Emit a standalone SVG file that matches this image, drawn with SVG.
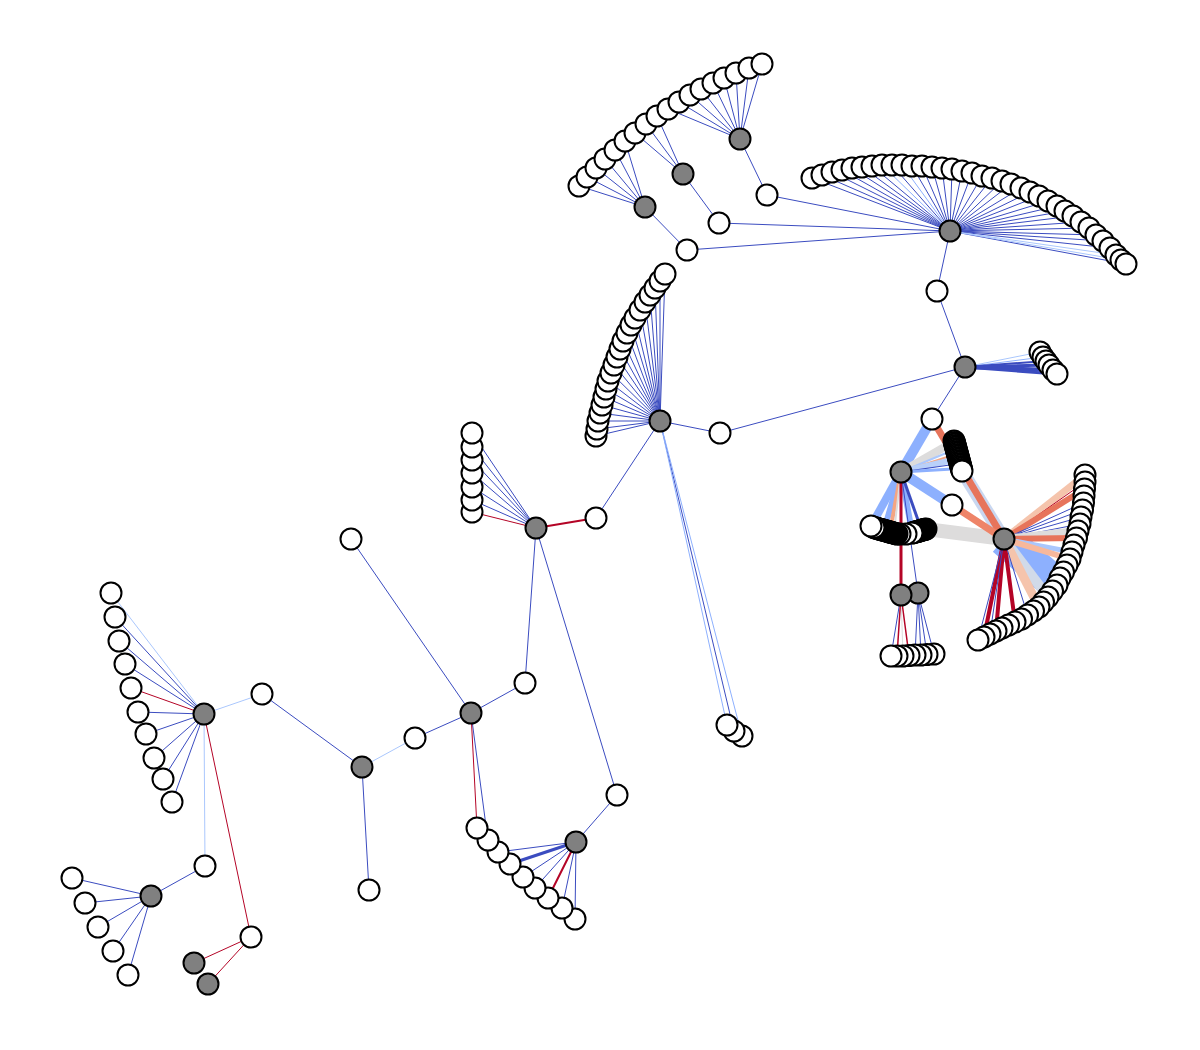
<svg xmlns="http://www.w3.org/2000/svg" width="1200" height="1050" viewBox="0 0 1200 1050">
<style>
.w{fill:#fff;stroke:#000;stroke-width:2}
.g{fill:#808080;stroke:#000;stroke-width:2}
#edges path,#edges line{fill:none}
.b{stroke:#3b4cc0;stroke-width:1}
.lb{stroke:#8db0fe;stroke-width:1}
.xb{stroke:#aac7fd;stroke-width:1}
.r{stroke:#b40426;stroke-width:1}
</style>
<rect width="1200" height="1050" fill="#fff"/>
<g id="edges">
<path class="b" d="M740 139L767 195M683 174L719 223M645 207L687 250M950 231L767 195M950 231L719 223M950 231L687 250M950 231L937 291M937 291L965 367M965 367L720 433M965 367L932 419M660 421L720 433M660 421L596 518M536 528L525 683M536 528L617 795M471 713L525 683M471 713L351 539M471 713L415 738M471 713L488 841M362 767L262 694M362 767L369 890M576 842L617 795M151 896L205 866M660 421L734 731"/>
<path class="b" d="M645 207L579 186M645 207L587 177M645 207L596 168M645 207L605 159M645 207L615 150M645 207L625 141M683 174L635 133M683 174L646 124M683 174L657 116M740 139L668 109M740 139L679 102M740 139L690 95M740 139L701 89M740 139L713 83M740 139L724 78M740 139L736 73M740 139L749 68M740 139L762 64"/>
<path class="b" d="M950 231L812 178M950 231L822 175M950 231L832 172M950 231L842 170M950 231L852 168M950 231L862 167M950 231L872 166M950 231L892 165M950 231L912 166M950 231L922 166M950 231L932 167M950 231L942 168M950 231L952 169M950 231L962 171M950 231L972 173M950 231L982 176M950 231L992 178M950 231L1002 181M950 231L1011 184M950 231L1021 188M950 231L1030 192M950 231L1039 196M950 231L1048 201M950 231L1057 206M950 231L1065 211M950 231L1073 216M950 231L1081 222M950 231L1089 228M950 231L1096 235M950 231L1103 241M950 231L1110 248M950 231L1126 264"/>
<path class="lb" d="M950 231L882 165M950 231L902 165"/>
<path class="xb" d="M950 231L1116 255M950 231L1121 260"/>
<path class="b" d="M660 421L665 274M660 421L660 281M660 421L655 288M660 421L650 295M660 421L645 302M660 421L640 310M660 421L635 318M660 421L631 325M660 421L627 333M660 421L623 341M660 421L620 349M660 421L617 357M660 421L614 365M660 421L611 373M660 421L608 381M660 421L606 389M660 421L604 397M660 421L602 405M660 421L600 413M660 421L598 421M660 421L597 429M660 421L596 436"/>
<path class="lb" d="M660 421L727 725M660 421L742 736"/>
<path class="b" d="M536 528L472 433M536 528L472 447M536 528L472 460M536 528L472 473M536 528L472 487M536 528L472 500"/>
<path class="r" d="M536 528L472 512M471 713L477 828"/>
<path class="r" style="stroke-width:2" d="M536 528L596 518M576 842L548 898"/>
<path class="b" d="M576 842L498 852M576 842L523 877M576 842L535 888M576 842L562 908M576 842L575 919"/>
<path class="b" style="stroke-width:3" d="M576 842L510 864"/>
<path class="b" d="M204 714L115 617M204 714L119 641M204 714L125 664M204 714L138 712M204 714L146 734M204 714L154 758M204 714L163 779M204 714L172 802"/>
<path class="xb" d="M204 714L111 593M204 714L262 694M204 714L205 866M362 767L415 738"/>
<path class="r" d="M204 714L131 688M204 714L251 937M251 937L194 963M251 937L208 984"/>
<path class="b" d="M151 896L72 878M151 896L85 903M151 896L98 927M151 896L113 951M151 896L128 975"/>
<path class="xb" d="M965 367L1040 352"/>
<path class="lb" d="M965 367L1043 357"/>
<line class="b" x1="965" y1="367" x2="1046" y2="361" style="stroke-width:2"/>
<line class="b" x1="965" y1="367" x2="1049" y2="365" style="stroke-width:3"/>
<line class="b" x1="965" y1="367" x2="1053" y2="370" style="stroke-width:4"/>
<line class="b" x1="965" y1="367" x2="1057" y2="374" style="stroke-width:3"/>
<line x1="1004" y1="539" x2="1057" y2="585" stroke="#8db0fe" stroke-width="34"/>
<line x1="926" y1="529" x2="1004" y2="539" stroke="#dddcdc" stroke-width="14"/>
<line x1="962" y1="471" x2="1004" y2="539" stroke="#c9d7f0" stroke-width="13"/>
<line x1="932" y1="419" x2="1004" y2="539" stroke="#e7745b" stroke-width="7"/>
<line x1="952" y1="505" x2="1004" y2="539" stroke="#ee8468" stroke-width="7"/>
<line x1="932" y1="419" x2="901" y2="472" stroke="#8db0fe" stroke-width="10"/>
<line x1="901" y1="472" x2="952" y2="505" stroke="#8db0fe" stroke-width="10"/>
<line x1="901" y1="472" x2="955" y2="441" stroke="#dddcdc" stroke-width="8"/>
<line x1="901" y1="472" x2="956.8" y2="448.5" stroke="#aac7fd" stroke-width="2"/>
<line x1="901" y1="472" x2="957.9" y2="453.5" stroke="#f4a582" stroke-width="2"/>
<line x1="901" y1="472" x2="959.1" y2="458.5" stroke="#b9d0f9" stroke-width="6"/>
<line x1="901" y1="472" x2="960.3" y2="463.5" stroke="#3b4cc0" stroke-width="1.2"/>
<line x1="901" y1="472" x2="961.4" y2="468.5" stroke="#8db0fe" stroke-width="3"/>
<line x1="901" y1="472" x2="871" y2="526" stroke="#8db0fe" stroke-width="8"/>
<line x1="901" y1="472" x2="884" y2="530" stroke="#8db0fe" stroke-width="6"/>
<line x1="901" y1="472" x2="890" y2="532" stroke="#f4a582" stroke-width="4"/>
<line x1="901" y1="472" x2="894" y2="532" stroke="#dddcdc" stroke-width="2"/>
<line x1="901" y1="472" x2="912" y2="532" stroke="#8db0fe" stroke-width="6"/>
<line x1="901" y1="472" x2="921.5" y2="530" stroke="#3b4cc0" stroke-width="3"/>
<line x1="901" y1="472" x2="901" y2="595" stroke="#b40426" stroke-width="3"/>
<line x1="901" y1="472" x2="918" y2="593" stroke="#3b4cc0" stroke-width="1"/>
<line x1="1004" y1="539" x2="1048" y2="597" stroke="#d1dae9" stroke-width="10"/>
<line x1="1004" y1="539" x2="1039" y2="607" stroke="#f5c4ac" stroke-width="9"/>
<line x1="1004" y1="539" x2="1085" y2="475" stroke="#f5c4ac" stroke-width="7"/>
<line x1="1004" y1="539" x2="1085" y2="482" stroke="#b40426" stroke-width="1"/>
<line x1="1004" y1="539" x2="1084.5" y2="489" stroke="#e7745b" stroke-width="6"/>
<path class="b" d="M1004 539L1083.5 503M1004 539L1082.5 510M1004 539L1081 517M1004 539L1080 524"/>
<line x1="1004" y1="539" x2="1078" y2="531" stroke="#dddcdc" stroke-width="8"/>
<line x1="1004" y1="539" x2="1076.5" y2="538" stroke="#e7745b" stroke-width="6"/>
<line x1="1004" y1="539" x2="1072" y2="552" stroke="#aac7fd" stroke-width="5"/>
<line x1="1004" y1="539" x2="1070" y2="559" stroke="#f7b89c" stroke-width="6"/>
<path d="M1004 539L1015 622M1004 539L996 631M1004 539L984 637" stroke="#b40426" stroke-width="4"/>
<path class="b" d="M1004 539L1027.5 615M1004 539L990 634M1004 539L978 640"/>
<path class="b" d="M901 595L891 656M918 593L915 655M918 593L921 655M918 593L927 654.5M918 593L934 654"/>
<path class="r" style="stroke-width:1.5" d="M901 595L897 656M901 595L909 655.5"/>
<line x1="901" y1="595" x2="903" y2="656" stroke="#dddcdc" stroke-width="1"/>
</g>
<g id="nodes">
<g id="a1"><circle class="w" cx="579" cy="186" r="10.5"/></g>
<g id="a2"><circle class="w" cx="587" cy="177" r="10.5"/></g>
<g id="a3"><circle class="w" cx="596" cy="168" r="10.5"/></g>
<g id="a4"><circle class="w" cx="605" cy="159" r="10.5"/></g>
<g id="a5"><circle class="w" cx="615" cy="150" r="10.5"/></g>
<g id="a6"><circle class="w" cx="625" cy="141" r="10.5"/></g>
<g id="a7"><circle class="w" cx="635" cy="133" r="10.5"/></g>
<g id="a8"><circle class="w" cx="646" cy="124" r="10.5"/></g>
<g id="a9"><circle class="w" cx="657" cy="116" r="10.5"/></g>
<g id="a10"><circle class="w" cx="668" cy="109" r="10.5"/></g>
<g id="a11"><circle class="w" cx="679" cy="102" r="10.5"/></g>
<g id="a12"><circle class="w" cx="690" cy="95" r="10.5"/></g>
<g id="a13"><circle class="w" cx="701" cy="89" r="10.5"/></g>
<g id="a14"><circle class="w" cx="713" cy="83" r="10.5"/></g>
<g id="a15"><circle class="w" cx="724" cy="78" r="10.5"/></g>
<g id="a16"><circle class="w" cx="736" cy="73" r="10.5"/></g>
<g id="a17"><circle class="w" cx="749" cy="68" r="10.5"/></g>
<g id="a18"><circle class="w" cx="762" cy="64" r="10.5"/></g>
<g id="b1"><circle class="w" cx="812" cy="178" r="10.5"/></g>
<g id="b2"><circle class="w" cx="822" cy="175" r="10.5"/></g>
<g id="b3"><circle class="w" cx="832" cy="172" r="10.5"/></g>
<g id="b4"><circle class="w" cx="842" cy="170" r="10.5"/></g>
<g id="b5"><circle class="w" cx="852" cy="168" r="10.5"/></g>
<g id="b6"><circle class="w" cx="862" cy="167" r="10.5"/></g>
<g id="b7"><circle class="w" cx="872" cy="166" r="10.5"/></g>
<g id="b8"><circle class="w" cx="882" cy="165" r="10.5"/></g>
<g id="b9"><circle class="w" cx="892" cy="165" r="10.5"/></g>
<g id="b10"><circle class="w" cx="902" cy="165" r="10.5"/></g>
<g id="b11"><circle class="w" cx="912" cy="166" r="10.5"/></g>
<g id="b12"><circle class="w" cx="922" cy="166" r="10.5"/></g>
<g id="b13"><circle class="w" cx="932" cy="167" r="10.5"/></g>
<g id="b14"><circle class="w" cx="942" cy="168" r="10.5"/></g>
<g id="b15"><circle class="w" cx="952" cy="169" r="10.5"/></g>
<g id="b16"><circle class="w" cx="962" cy="171" r="10.5"/></g>
<g id="b17"><circle class="w" cx="972" cy="173" r="10.5"/></g>
<g id="b18"><circle class="w" cx="982" cy="176" r="10.5"/></g>
<g id="b19"><circle class="w" cx="992" cy="178" r="10.5"/></g>
<g id="b20"><circle class="w" cx="1002" cy="181" r="10.5"/></g>
<g id="b21"><circle class="w" cx="1011" cy="184" r="10.5"/></g>
<g id="b22"><circle class="w" cx="1021" cy="188" r="10.5"/></g>
<g id="b23"><circle class="w" cx="1030" cy="192" r="10.5"/></g>
<g id="b24"><circle class="w" cx="1039" cy="196" r="10.5"/></g>
<g id="b25"><circle class="w" cx="1048" cy="201" r="10.5"/></g>
<g id="b26"><circle class="w" cx="1057" cy="206" r="10.5"/></g>
<g id="b27"><circle class="w" cx="1065" cy="211" r="10.5"/></g>
<g id="b28"><circle class="w" cx="1073" cy="216" r="10.5"/></g>
<g id="b29"><circle class="w" cx="1081" cy="222" r="10.5"/></g>
<g id="b30"><circle class="w" cx="1089" cy="228" r="10.5"/></g>
<g id="b31"><circle class="w" cx="1096" cy="235" r="10.5"/></g>
<g id="b32"><circle class="w" cx="1103" cy="241" r="10.5"/></g>
<g id="b33"><circle class="w" cx="1110" cy="248" r="10.5"/></g>
<g id="b34"><circle class="w" cx="1116" cy="255" r="10.5"/></g>
<g id="b35"><circle class="w" cx="1121" cy="260" r="10.5"/></g>
<g id="b36"><circle class="w" cx="1126" cy="264" r="10.5"/></g>
<g id="c22"><circle class="w" cx="596" cy="436" r="10.5"/></g>
<g id="c21"><circle class="w" cx="597" cy="429" r="10.5"/></g>
<g id="c20"><circle class="w" cx="598" cy="421" r="10.5"/></g>
<g id="c19"><circle class="w" cx="600" cy="413" r="10.5"/></g>
<g id="c18"><circle class="w" cx="602" cy="405" r="10.5"/></g>
<g id="c17"><circle class="w" cx="604" cy="397" r="10.5"/></g>
<g id="c16"><circle class="w" cx="606" cy="389" r="10.5"/></g>
<g id="c15"><circle class="w" cx="608" cy="381" r="10.5"/></g>
<g id="c14"><circle class="w" cx="611" cy="373" r="10.5"/></g>
<g id="c13"><circle class="w" cx="614" cy="365" r="10.5"/></g>
<g id="c12"><circle class="w" cx="617" cy="357" r="10.5"/></g>
<g id="c11"><circle class="w" cx="620" cy="349" r="10.5"/></g>
<g id="c10"><circle class="w" cx="623" cy="341" r="10.5"/></g>
<g id="c9"><circle class="w" cx="627" cy="333" r="10.5"/></g>
<g id="c8"><circle class="w" cx="631" cy="325" r="10.5"/></g>
<g id="c7"><circle class="w" cx="635" cy="318" r="10.5"/></g>
<g id="c6"><circle class="w" cx="640" cy="310" r="10.5"/></g>
<g id="c5"><circle class="w" cx="645" cy="302" r="10.5"/></g>
<g id="c4"><circle class="w" cx="650" cy="295" r="10.5"/></g>
<g id="c3"><circle class="w" cx="655" cy="288" r="10.5"/></g>
<g id="c2"><circle class="w" cx="660" cy="281" r="10.5"/></g>
<g id="c1"><circle class="w" cx="665" cy="274" r="10.5"/></g>
<g id="n767"><circle class="w" cx="767" cy="195" r="10.5"/></g>
<g id="n719"><circle class="w" cx="719" cy="223" r="10.5"/></g>
<g id="n687"><circle class="w" cx="687" cy="250" r="10.5"/></g>
<g id="n937"><circle class="w" cx="937" cy="291" r="10.5"/></g>
<g id="n720"><circle class="w" cx="720" cy="433" r="10.5"/></g>
<g id="n596"><circle class="w" cx="596" cy="518" r="10.5"/></g>
<g id="n525"><circle class="w" cx="525" cy="683" r="10.5"/></g>
<g id="n617"><circle class="w" cx="617" cy="795" r="10.5"/></g>
<g id="n415"><circle class="w" cx="415" cy="738" r="10.5"/></g>
<g id="n351"><circle class="w" cx="351" cy="539" r="10.5"/></g>
<g id="n369"><circle class="w" cx="369" cy="890" r="10.5"/></g>
<g id="n262"><circle class="w" cx="262" cy="694" r="10.5"/></g>
<g id="n205"><circle class="w" cx="205" cy="866" r="10.5"/></g>
<g id="n251"><circle class="w" cx="251" cy="937" r="10.5"/></g>
<g id="q3"><circle class="w" cx="742" cy="736" r="10.5"/></g>
<g id="q2"><circle class="w" cx="734" cy="731" r="10.5"/></g>
<g id="q1"><circle class="w" cx="727" cy="725" r="10.5"/></g>
<g id="k7"><circle class="w" cx="472" cy="512" r="10.5"/></g>
<g id="k6"><circle class="w" cx="472" cy="500" r="10.5"/></g>
<g id="k5"><circle class="w" cx="472" cy="487" r="10.5"/></g>
<g id="k4"><circle class="w" cx="472" cy="473" r="10.5"/></g>
<g id="k3"><circle class="w" cx="472" cy="460" r="10.5"/></g>
<g id="k2"><circle class="w" cx="472" cy="447" r="10.5"/></g>
<g id="k1"><circle class="w" cx="472" cy="433" r="10.5"/></g>
<g id="p9"><circle class="w" cx="575" cy="919" r="10.5"/></g>
<g id="p8"><circle class="w" cx="562" cy="908" r="10.5"/></g>
<g id="p7"><circle class="w" cx="548" cy="898" r="10.5"/></g>
<g id="p6"><circle class="w" cx="535" cy="888" r="10.5"/></g>
<g id="p5"><circle class="w" cx="523" cy="877" r="10.5"/></g>
<g id="p4"><circle class="w" cx="510" cy="864" r="10.5"/></g>
<g id="p3"><circle class="w" cx="498" cy="852" r="10.5"/></g>
<g id="p2"><circle class="w" cx="488" cy="840" r="10.5"/></g>
<g id="p1"><circle class="w" cx="477" cy="828" r="10.5"/></g>
<g id="g1"><circle class="w" cx="111" cy="593" r="10.5"/></g>
<g id="g2"><circle class="w" cx="115" cy="617" r="10.5"/></g>
<g id="g3"><circle class="w" cx="119" cy="641" r="10.5"/></g>
<g id="g4"><circle class="w" cx="125" cy="664" r="10.5"/></g>
<g id="g5"><circle class="w" cx="131" cy="688" r="10.5"/></g>
<g id="g6"><circle class="w" cx="138" cy="712" r="10.5"/></g>
<g id="g7"><circle class="w" cx="146" cy="734" r="10.5"/></g>
<g id="g8"><circle class="w" cx="154" cy="758" r="10.5"/></g>
<g id="g9"><circle class="w" cx="163" cy="779" r="10.5"/></g>
<g id="g10"><circle class="w" cx="172" cy="802" r="10.5"/></g>
<g id="h1"><circle class="w" cx="72" cy="878" r="10.5"/></g>
<g id="h2"><circle class="w" cx="85" cy="903" r="10.5"/></g>
<g id="h3"><circle class="w" cx="98" cy="927" r="10.5"/></g>
<g id="h4"><circle class="w" cx="113" cy="951" r="10.5"/></g>
<g id="h5"><circle class="w" cx="128" cy="975" r="10.5"/></g>
<g id="f1"><circle class="w" cx="1040" cy="352" r="10.5"/></g>
<g id="f2"><circle class="w" cx="1043" cy="357" r="10.5"/></g>
<g id="f3"><circle class="w" cx="1046" cy="361" r="10.5"/></g>
<g id="f4"><circle class="w" cx="1049" cy="365" r="10.5"/></g>
<g id="f5"><circle class="w" cx="1053" cy="370" r="10.5"/></g>
<g id="f6"><circle class="w" cx="1057" cy="374" r="10.5"/></g>
<g id="R1"><circle class="w" cx="932" cy="419" r="10.5"/></g>
<g id="Rn"><circle class="w" cx="952" cy="505" r="10.5"/></g>
<g id="u1"><circle class="w" cx="954" cy="441" r="10.5"/></g>
<g id="u2"><circle class="w" cx="954.4" cy="442.5" r="10.5"/></g>
<g id="u3"><circle class="w" cx="954.8" cy="444" r="10.5"/></g>
<g id="u4"><circle class="w" cx="955.2" cy="445.5" r="10.5"/></g>
<g id="u5"><circle class="w" cx="955.6" cy="447" r="10.5"/></g>
<g id="u6"><circle class="w" cx="956" cy="448.5" r="10.5"/></g>
<g id="u7"><circle class="w" cx="956.4" cy="450" r="10.5"/></g>
<g id="u8"><circle class="w" cx="956.8" cy="451.5" r="10.5"/></g>
<g id="u9"><circle class="w" cx="957.2" cy="453" r="10.5"/></g>
<g id="u10"><circle class="w" cx="957.6" cy="454.5" r="10.5"/></g>
<g id="u11"><circle class="w" cx="958" cy="456" r="10.5"/></g>
<g id="u12"><circle class="w" cx="958.4" cy="457.5" r="10.5"/></g>
<g id="u13"><circle class="w" cx="958.8" cy="459" r="10.5"/></g>
<g id="u14"><circle class="w" cx="959.2" cy="460.5" r="10.5"/></g>
<g id="u15"><circle class="w" cx="959.6" cy="462" r="10.5"/></g>
<g id="u16"><circle class="w" cx="960" cy="463.5" r="10.5"/></g>
<g id="u17"><circle class="w" cx="960.4" cy="465" r="10.5"/></g>
<g id="u18"><circle class="w" cx="960.8" cy="466.5" r="10.5"/></g>
<g id="u19"><circle class="w" cx="961.2" cy="468" r="10.5"/></g>
<g id="u20"><circle class="w" cx="961.6" cy="469.5" r="10.5"/></g>
<g id="u21"><circle class="w" cx="962" cy="471" r="10.5"/></g>
<g id="v1"><circle class="w" cx="926" cy="529" r="10.5"/></g>
<g id="v2"><circle class="w" cx="925" cy="529.3" r="10.5"/></g>
<g id="v3"><circle class="w" cx="924" cy="529.6" r="10.5"/></g>
<g id="v4"><circle class="w" cx="923" cy="529.9" r="10.5"/></g>
<g id="v5"><circle class="w" cx="922" cy="530.1" r="10.5"/></g>
<g id="v6"><circle class="w" cx="921" cy="530.4" r="10.5"/></g>
<g id="v7"><circle class="w" cx="920" cy="530.7" r="10.5"/></g>
<g id="v8"><circle class="w" cx="919" cy="531" r="10.5"/></g>
<g id="v9"><circle class="w" cx="918" cy="531.3" r="10.5"/></g>
<g id="v10"><circle class="w" cx="917" cy="531.6" r="10.5"/></g>
<g id="v11"><circle class="w" cx="916" cy="531.9" r="10.5"/></g>
<g id="v12"><circle class="w" cx="915" cy="532.1" r="10.5"/></g>
<g id="v13"><circle class="w" cx="914" cy="532.4" r="10.5"/></g>
<g id="v14"><circle class="w" cx="913" cy="532.7" r="10.5"/></g>
<g id="v15"><circle class="w" cx="912" cy="533" r="10.5"/></g>
<g id="v16"><circle class="w" cx="906" cy="534" r="10.5"/></g>
<g id="v17"><circle class="w" cx="900" cy="534" r="10.5"/></g>
<g id="v18"><circle class="w" cx="897" cy="534" r="10.5"/></g>
<g id="v19"><circle class="w" cx="896" cy="533.7" r="10.5"/></g>
<g id="v20"><circle class="w" cx="895" cy="533.4" r="10.5"/></g>
<g id="v21"><circle class="w" cx="894" cy="533.2" r="10.5"/></g>
<g id="v22"><circle class="w" cx="893" cy="532.9" r="10.5"/></g>
<g id="v23"><circle class="w" cx="892" cy="532.6" r="10.5"/></g>
<g id="v24"><circle class="w" cx="891" cy="532.3" r="10.5"/></g>
<g id="v25"><circle class="w" cx="890" cy="532" r="10.5"/></g>
<g id="v26"><circle class="w" cx="889" cy="531.8" r="10.5"/></g>
<g id="v27"><circle class="w" cx="888" cy="531.5" r="10.5"/></g>
<g id="v28"><circle class="w" cx="887" cy="531.2" r="10.5"/></g>
<g id="v29"><circle class="w" cx="886" cy="530.9" r="10.5"/></g>
<g id="v30"><circle class="w" cx="885" cy="530.6" r="10.5"/></g>
<g id="v31"><circle class="w" cx="884" cy="530.4" r="10.5"/></g>
<g id="v32"><circle class="w" cx="883" cy="530.1" r="10.5"/></g>
<g id="v33"><circle class="w" cx="882" cy="529.8" r="10.5"/></g>
<g id="v34"><circle class="w" cx="881" cy="529.5" r="10.5"/></g>
<g id="v35"><circle class="w" cx="880" cy="529.2" r="10.5"/></g>
<g id="v36"><circle class="w" cx="879" cy="529" r="10.5"/></g>
<g id="v37"><circle class="w" cx="878" cy="528.7" r="10.5"/></g>
<g id="v38"><circle class="w" cx="877" cy="528.4" r="10.5"/></g>
<g id="v39"><circle class="w" cx="876" cy="528.1" r="10.5"/></g>
<g id="v40"><circle class="w" cx="875" cy="527.8" r="10.5"/></g>
<g id="v41"><circle class="w" cx="874" cy="527.6" r="10.5"/></g>
<g id="v42"><circle class="w" cx="871" cy="526" r="10.5"/></g>
<g id="d1"><circle class="w" cx="1085" cy="475" r="10.5"/></g>
<g id="d2"><circle class="w" cx="1085" cy="482" r="10.5"/></g>
<g id="d3"><circle class="w" cx="1084.5" cy="489" r="10.5"/></g>
<g id="d4"><circle class="w" cx="1084" cy="496" r="10.5"/></g>
<g id="d5"><circle class="w" cx="1083.5" cy="503" r="10.5"/></g>
<g id="d6"><circle class="w" cx="1082.5" cy="510" r="10.5"/></g>
<g id="d7"><circle class="w" cx="1081" cy="517" r="10.5"/></g>
<g id="d8"><circle class="w" cx="1080" cy="524" r="10.5"/></g>
<g id="d9"><circle class="w" cx="1078" cy="531" r="10.5"/></g>
<g id="d10"><circle class="w" cx="1076.5" cy="538" r="10.5"/></g>
<g id="d11"><circle class="w" cx="1074" cy="545" r="10.5"/></g>
<g id="d12"><circle class="w" cx="1072" cy="552" r="10.5"/></g>
<g id="d13"><circle class="w" cx="1070" cy="559" r="10.5"/></g>
<g id="d14"><circle class="w" cx="1067" cy="565" r="10.5"/></g>
<g id="d15"><circle class="w" cx="1063.5" cy="572" r="10.5"/></g>
<g id="d16"><circle class="w" cx="1060" cy="578" r="10.5"/></g>
<g id="d17"><circle class="w" cx="1057" cy="585" r="10.5"/></g>
<g id="d18"><circle class="w" cx="1052.5" cy="591" r="10.5"/></g>
<g id="d19"><circle class="w" cx="1048" cy="597" r="10.5"/></g>
<g id="d20"><circle class="w" cx="1043.5" cy="602" r="10.5"/></g>
<g id="d21"><circle class="w" cx="1039" cy="607" r="10.5"/></g>
<g id="d22"><circle class="w" cx="1033.5" cy="611" r="10.5"/></g>
<g id="d23"><circle class="w" cx="1027.5" cy="615" r="10.5"/></g>
<g id="d24"><circle class="w" cx="1021.5" cy="619" r="10.5"/></g>
<g id="d25"><circle class="w" cx="1015" cy="622" r="10.5"/></g>
<g id="d26"><circle class="w" cx="1008.5" cy="625" r="10.5"/></g>
<g id="d27"><circle class="w" cx="1002" cy="628" r="10.5"/></g>
<g id="d28"><circle class="w" cx="996" cy="631" r="10.5"/></g>
<g id="d29"><circle class="w" cx="990" cy="634" r="10.5"/></g>
<g id="d30"><circle class="w" cx="984" cy="637" r="10.5"/></g>
<g id="d31"><circle class="w" cx="978" cy="640" r="10.5"/></g>
<g id="e8"><circle class="w" cx="934" cy="654" r="10.5"/></g>
<g id="e7"><circle class="w" cx="927" cy="654.5" r="10.5"/></g>
<g id="e6"><circle class="w" cx="921" cy="655" r="10.5"/></g>
<g id="e5"><circle class="w" cx="915" cy="655" r="10.5"/></g>
<g id="e4"><circle class="w" cx="909" cy="655.5" r="10.5"/></g>
<g id="e3"><circle class="w" cx="903" cy="656" r="10.5"/></g>
<g id="e2"><circle class="w" cx="897" cy="656" r="10.5"/></g>
<g id="e1"><circle class="w" cx="891" cy="656" r="10.5"/></g>
<g id="H1"><circle class="g" cx="740" cy="139" r="10.5"/></g>
<g id="H2"><circle class="g" cx="683" cy="174" r="10.5"/></g>
<g id="H3"><circle class="g" cx="645" cy="207" r="10.5"/></g>
<g id="H4"><circle class="g" cx="950" cy="231" r="10.5"/></g>
<g id="H5"><circle class="g" cx="965" cy="367" r="10.5"/></g>
<g id="H6"><circle class="g" cx="660" cy="421" r="10.5"/></g>
<g id="H7"><circle class="g" cx="536" cy="528" r="10.5"/></g>
<g id="H8"><circle class="g" cx="901" cy="472" r="10.5"/></g>
<g id="H9"><circle class="g" cx="1004" cy="539" r="10.5"/></g>
<g id="H11"><circle class="g" cx="918" cy="593" r="10.5"/></g>
<g id="H10"><circle class="g" cx="901" cy="595" r="10.5"/></g>
<g id="H12"><circle class="g" cx="204" cy="714" r="10.5"/></g>
<g id="H13"><circle class="g" cx="471" cy="713" r="10.5"/></g>
<g id="H14"><circle class="g" cx="362" cy="767" r="10.5"/></g>
<g id="H15"><circle class="g" cx="576" cy="842" r="10.5"/></g>
<g id="H16"><circle class="g" cx="151" cy="896" r="10.5"/></g>
<g id="H17"><circle class="g" cx="194" cy="963" r="10.5"/></g>
<g id="H18"><circle class="g" cx="208" cy="984" r="10.5"/></g>
</g>
</svg>
